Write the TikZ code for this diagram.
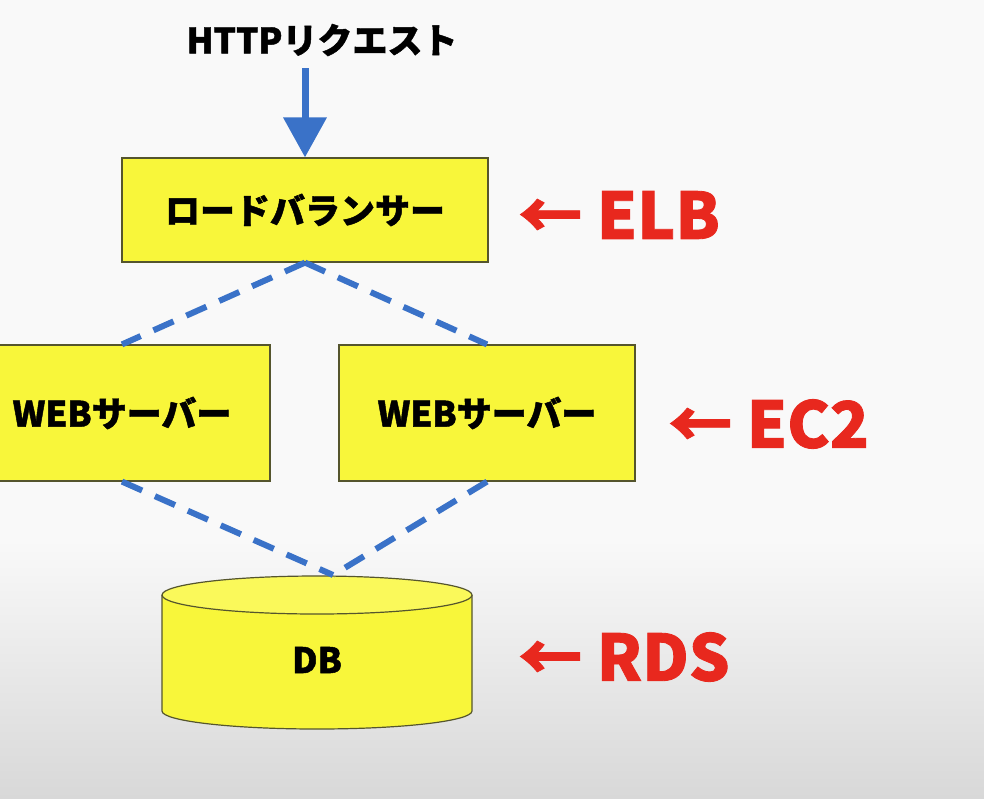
\documentclass[tikz,border=0pt]{standalone}
\usepackage{fontspec}
\setmainfont{Noto Sans CJK JP}[BoldFeatures={FakeBold=1.3}]
\usetikzlibrary{arrows.meta}
\definecolor{boxyellow}{RGB}{248,246,58}
\definecolor{topyellow}{RGB}{250,249,90}
\definecolor{boxedge}{RGB}{85,85,45}
\definecolor{linkblue}{RGB}{58,114,200}
\definecolor{labelred}{RGB}{232,40,30}
\definecolor{bgtop}{RGB}{249,249,249}
\definecolor{bgbot}{RGB}{216,216,216}
\tikzset{
  ybox/.style={draw=boxedge, line width=1.2pt, fill=boxyellow, inner sep=0pt},
  jptext/.style={font=\bfseries\fontsize{35}{40}\selectfont, text=black},
  link/.style={draw=linkblue, line width=6pt, dash pattern=on 22pt off 14pt},
  redlabel/.style={font=\bfseries\fontsize{64}{70}\selectfont, text=labelred, anchor=west, inner sep=0pt},
}
\begin{document}
\begin{tikzpicture}[x=1pt,y=-1pt]
\useasboundingbox (0,0) rectangle (984,798);
\clip (0,0) rectangle (984,798);
\fill[bgtop] (0,0) rectangle (984,798);
\shade[top color=bgtop, bottom color=bgbot] (0,540) rectangle (984,798);

\node[jptext] (req) at (322,40) {HTTPリクエスト};
\node[ybox, minimum width=366pt, minimum height=104pt, jptext] (elb) at (305,210) {ロードバランサー};
\node[ybox, minimum width=296pt, minimum height=136pt, jptext] (web1) at (122,413) {WEBサーバー};
\node[ybox, minimum width=296pt, minimum height=136pt, jptext] (web2) at (487,413) {WEBサーバー};

% cylinder DB
\fill[boxyellow, draw=boxedge, line width=1.2pt]
  (162,595) -- (162,711) arc[start angle=180, end angle=360, x radius=155, y radius=-18] -- (472,595);
\fill[topyellow, draw=boxedge, line width=1.2pt] (317,595) ellipse[x radius=155, y radius=19];
\node[jptext, minimum width=310pt, minimum height=136pt] (db) at (317,660) {DB};
\coordinate (dbtop) at (333,575);

\draw[linkblue, line width=7pt, -{Triangle[width=42pt,length=40pt]}] (305,68) -- (elb.north);
\path[link] (elb.south) -- (web1.north);
\path[link] (elb.south) -- (web2.north);
\path[link] (web1.south) -- (dbtop);
\path[link] (web2.south) -- (dbtop);

\node[redlabel] (lelb) at (518,215) {← ELB};
\node[redlabel] (lec2) at (668,424) {← EC2};
\node[redlabel] (lrds) at (518,657) {← RDS};
\end{tikzpicture}
\end{document}
